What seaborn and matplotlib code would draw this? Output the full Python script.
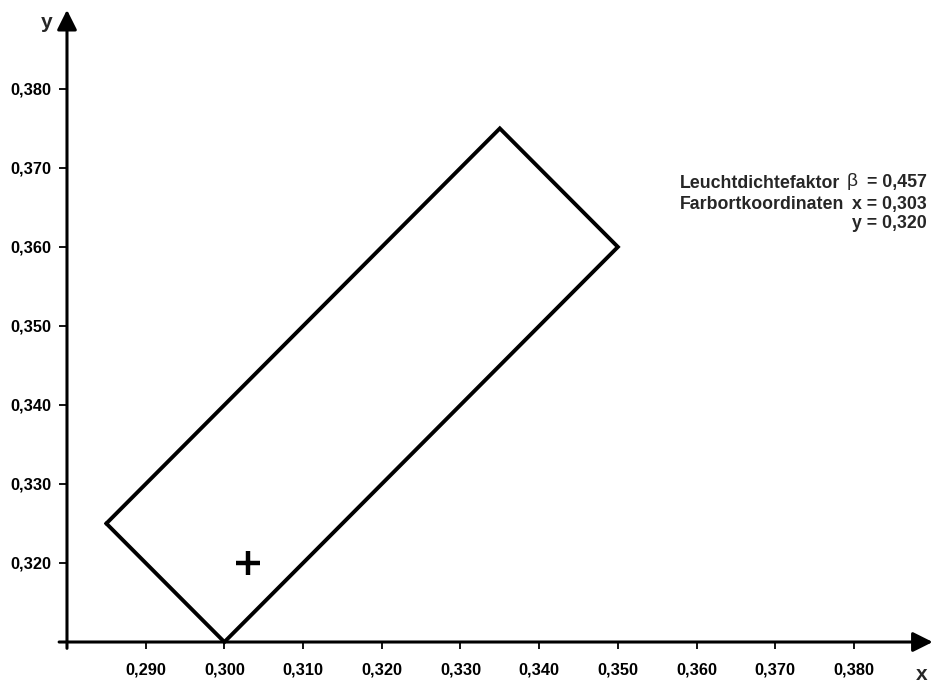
import numpy as np
import pandas as pd
import matplotlib
matplotlib.use("Agg")
import matplotlib.pyplot as plt
import seaborn as sns
from matplotlib.ticker import FuncFormatter

# colour region boundary (CIE x, y) and measured point
corner_x = [0.285, 0.300, 0.350, 0.335]
corner_y = [0.325, 0.310, 0.360, 0.375]
point_x = 0.303
point_y = 0.320
beta = 0.457

x_ticks = [0.290, 0.300, 0.310, 0.320, 0.330, 0.340, 0.350, 0.360, 0.370, 0.380]
y_ticks = [0.320, 0.330, 0.340, 0.350, 0.360, 0.370, 0.380]

W, H = 943, 689


def px(x, y):
    """pixel position -> figure fraction"""
    return x / W, 1 - y / H


def de(v):
    return f"{v:.3f}".replace(".", ",")


sns.set_style("white")
plt.rcParams["font.family"] = ["Liberation Sans", "DejaVu Sans"]

fig = plt.figure(figsize=(W / 100, H / 100), dpi=100)
ax = fig.add_axes([0.046, 0.0338, 0.9514, 0.9633])
ax.set_xlim(0.277, 0.391)
ax.set_ylim(0.307, 0.391)

# boundary polygon, closed
poly = pd.DataFrame({"x": corner_x + corner_x[:1], "y": corner_y + corner_y[:1]})
sns.lineplot(data=poly, x="x", y="y", sort=False, estimator=None, color="black",
             linewidth=2.8, solid_joinstyle="miter", ax=ax)

sns.scatterplot(x=[point_x], y=[point_y], marker="+", s=290, linewidth=3.2,
                color="black", ax=ax)

# axes drawn as arrows
for s in ax.spines.values():
    s.set_visible(False)
ax.spines["left"].set_position(("data", 0.280))
ax.spines["bottom"].set_position(("data", 0.310))
arrow = dict(arrowstyle="-|>", lw=2.2, color="black", mutation_scale=30, shrinkA=0, shrinkB=0)
ax.annotate("", xy=(0.390, 0.310), xytext=(0.279, 0.310), arrowprops=arrow, annotation_clip=False)
ax.annotate("", xy=(0.280, 0.390), xytext=(0.280, 0.3092), arrowprops=arrow, annotation_clip=False)

ax.set_xticks(x_ticks)
ax.set_yticks(y_ticks)
fmt = FuncFormatter(lambda v, pos: de(v))
ax.xaxis.set_major_formatter(fmt)
ax.yaxis.set_major_formatter(fmt)
ax.tick_params(axis="x", direction="out", length=5, width=1.3, pad=9.5, bottom=True,
               labelsize=11.8, colors="black")
ax.tick_params(axis="y", direction="out", length=6, width=1.3, pad=5, left=True,
               labelsize=11.8, colors="black")
for lab in ax.get_xticklabels() + ax.get_yticklabels():
    lab.set_fontweight("bold")
ax.set_xlabel("")
ax.set_ylabel("")
ax.grid(False)

fig.text(*px(922, 674), "x", fontsize=15, fontweight="bold", ha="center", va="center")
fig.text(*px(47, 23), "y", fontsize=15, fontweight="bold", ha="center", va="center")

# measurement legend
fs = 12.8
fig.text(*px(680, 183), "Leuchtdichtefaktor", fontsize=fs, fontweight="bold", va="center")
fig.text(*px(852, 182), "β", fontsize=fs + 1, va="center", ha="center")
fig.text(*px(927, 183), "= " + de(beta), fontsize=fs, fontweight="bold", va="center", ha="right")
fig.text(*px(680, 204), "Farbortkoordinaten", fontsize=fs, fontweight="bold", va="center")
fig.text(*px(927, 204), "x = " + de(point_x), fontsize=fs, fontweight="bold", va="center", ha="right")
fig.text(*px(927, 223), "y = " + de(point_y), fontsize=fs, fontweight="bold", va="center", ha="right")

fig.savefig("out.png", dpi=100)
